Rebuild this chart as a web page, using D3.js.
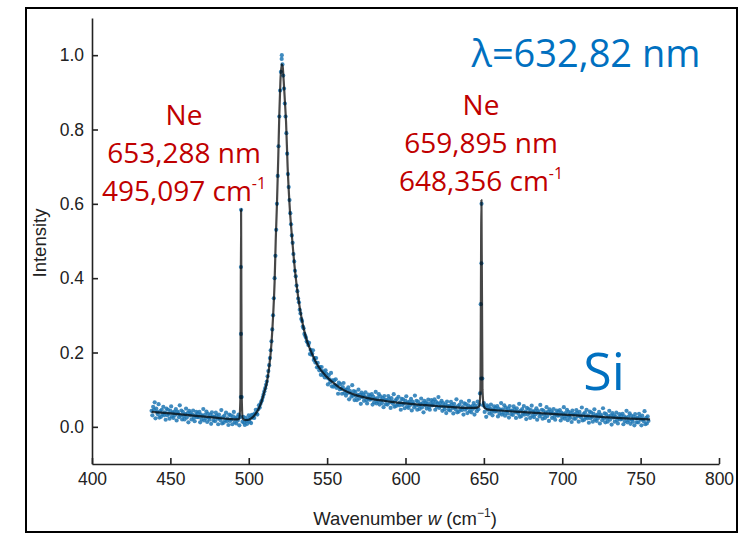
<!DOCTYPE html>
<html><head><meta charset="utf-8">
<script src="https://cdn.jsdelivr.net/npm/d3@7"></script>
<style>body{margin:0;background:#fff}</style>
</head><body><svg id="c" width="755" height="535"></svg>
<script>
// ---- data ----
const xTicks = [400, 450, 500, 550, 600, 650, 700, 750, 800];
const yTicks = [0.0, 0.2, 0.4, 0.6, 0.8, 1.0];
const xDomain = [400, 800];
const yDomain = [-0.1, 1.1];

// measured spectrum: intensities on a regular wavenumber grid (438 ... 755, step 0.5)
const scatterStart = 438, scatterStep = 0.5;
const scatterI = [
 0.043,0.031,0.054,0.046,0.066,0.023,0.049,0.040,0.034,0.061,0.025,0.042,0.027,0.046,0.034,0.054,0.031,0.039,0.019,0.049,
 0.031,0.046,0.035,0.022,0.043,0.055,0.028,0.038,0.024,0.041,0.032,0.048,0.017,0.041,0.036,0.026,0.058,0.031,0.044,0.020,
 0.040,0.029,0.020,0.034,0.049,0.025,0.037,0.012,0.043,0.031,0.037,0.020,0.033,0.044,0.024,0.015,0.031,0.040,0.026,0.036,
 0.026,0.040,0.012,0.033,0.020,0.029,0.048,0.017,0.032,0.023,0.041,0.013,0.035,0.025,0.019,0.032,0.008,0.039,0.028,0.017,
 0.027,0.015,0.038,0.030,0.022,0.007,0.033,0.024,0.018,0.045,0.009,0.026,0.011,0.030,0.018,0.038,0.015,0.023,0.005,0.033,
 0.016,0.031,0.020,0.007,0.028,0.040,0.013,0.023,0.009,0.026,0.017,0.033,0.004,0.026,0.430,0.080,0.014,0.027,0.011,0.005,
 0.024,0.016,0.008,0.020,0.031,0.014,0.025,0.010,0.032,0.025,0.033,0.024,0.036,0.046,0.036,0.033,0.047,0.058,0.052,0.062,
 0.068,0.072,0.080,0.088,0.096,0.104,0.113,0.122,0.136,0.150,0.166,0.185,0.206,0.230,0.262,0.300,0.346,0.400,0.460,0.530,
 0.600,0.675,0.755,0.835,0.905,0.955,0.990,0.975,0.945,0.910,0.870,0.835,0.790,0.735,0.680,0.645,0.610,0.575,0.545,0.515,
 0.495,0.465,0.445,0.420,0.405,0.380,0.365,0.345,0.335,0.315,0.305,0.290,0.285,0.270,0.265,0.250,0.245,0.240,0.230,0.227,
 0.220,0.226,0.196,0.207,0.194,0.197,0.206,0.180,0.185,0.173,0.185,0.160,0.172,0.160,0.152,0.161,0.140,0.161,0.150,0.139,
 0.147,0.133,0.152,0.143,0.132,0.114,0.139,0.128,0.120,0.145,0.109,0.125,0.108,0.125,0.112,0.128,0.105,0.111,0.089,0.119,
 0.101,0.115,0.102,0.089,0.107,0.118,0.091,0.100,0.084,0.100,0.091,0.106,0.074,0.097,0.091,0.081,0.112,0.084,0.096,0.072,
 0.094,0.082,0.072,0.086,0.100,0.076,0.087,0.062,0.092,0.080,0.087,0.070,0.082,0.093,0.072,0.063,0.078,0.087,0.073,0.083,
 0.074,0.088,0.060,0.081,0.066,0.075,0.094,0.063,0.077,0.068,0.088,0.060,0.082,0.071,0.064,0.077,0.053,0.083,0.072,0.061,
 0.072,0.060,0.083,0.075,0.066,0.051,0.077,0.068,0.062,0.088,0.054,0.071,0.056,0.075,0.061,0.081,0.058,0.066,0.046,0.075,
 0.059,0.074,0.063,0.050,0.070,0.082,0.055,0.065,0.051,0.068,0.059,0.075,0.044,0.068,0.062,0.052,0.084,0.057,0.070,0.046,
 0.068,0.057,0.048,0.062,0.076,0.052,0.064,0.039,0.070,0.058,0.065,0.049,0.062,0.073,0.053,0.046,0.063,0.072,0.058,0.068,
 0.060,0.074,0.046,0.067,0.054,0.063,0.080,0.051,0.064,0.056,0.070,0.043,0.064,0.054,0.047,0.060,0.037,0.068,0.056,0.046,
 0.056,0.044,0.067,0.059,0.051,0.036,0.062,0.053,0.047,0.074,0.039,0.056,0.041,0.060,0.048,0.068,0.045,0.053,0.033,0.063,
 0.046,0.061,0.050,0.037,0.058,0.070,0.043,0.053,0.039,0.056,0.048,0.064,0.033,0.057,0.052,0.042,0.068,0.047,0.060,0.090,
 0.330,0.600,0.130,0.058,0.064,0.040,0.052,0.027,0.058,0.046,0.053,0.036,0.049,0.060,0.040,0.031,0.046,0.055,0.041,0.051,
 0.042,0.056,0.028,0.049,0.036,0.045,0.064,0.033,0.047,0.038,0.058,0.030,0.052,0.042,0.036,0.049,0.025,0.056,0.044,0.034,
 0.044,0.032,0.055,0.047,0.039,0.024,0.050,0.041,0.035,0.062,0.027,0.044,0.029,0.048,0.036,0.056,0.033,0.041,0.021,0.051,
 0.033,0.048,0.037,0.024,0.045,0.057,0.030,0.040,0.026,0.043,0.034,0.050,0.019,0.043,0.038,0.028,0.059,0.033,0.046,0.022,
 0.044,0.033,0.024,0.038,0.053,0.029,0.041,0.016,0.047,0.035,0.041,0.024,0.037,0.048,0.028,0.019,0.035,0.044,0.030,0.040,
 0.031,0.045,0.017,0.038,0.025,0.034,0.053,0.022,0.037,0.028,0.046,0.018,0.040,0.030,0.024,0.037,0.013,0.044,0.033,0.022,
 0.034,0.022,0.045,0.037,0.029,0.014,0.040,0.031,0.025,0.052,0.017,0.034,0.019,0.038,0.026,0.046,0.023,0.031,0.011,0.041,
 0.023,0.038,0.027,0.014,0.035,0.047,0.020,0.030,0.016,0.033,0.024,0.040,0.009,0.033,0.028,0.018,0.050,0.023,0.036,0.012,
 0.034,0.023,0.014,0.028,0.043,0.019,0.031,0.006,0.037,0.025,0.031,0.014,0.027,0.038,0.018,0.009,0.025,0.034,0.020,0.030,
 0.021,0.035,0.007,0.028,0.015,0.024,0.043,0.012,0.027,0.018,0.036,0.008,0.030,0.020,0.014,0.027,0.004,0.034,0.023,0.012,
 0.024,0.012,0.035,0.027,0.019,0.004,0.030,0.021,0.015,0.042,0.007,0.024,0.009,0.028,0.016
];
// extra measured points sitting on the sharp peaks
const extraWn = [495.1, 495.05, 494.95, 648.45, 648.3, 521.1];
const extraI  = [0.584, 0.250, 0.080, 0.440, 0.130, 1.000];

// fitted curve
const fitWn = [438,450,460,470,480,488,492,494,494.7,495.1,495.5,496.2,498,500,502,504,506,508,510,511.5,513,514.5,515.5,516.5,517.2,518,518.8,519.5,520.2,521.0,521.6,522.3,523,523.8,524.8,526,527.8,529.5,531.5,533.8,536.5,540,544,549.7,555,560,566.5,573,580,590,600,610,620,630,640,645,647,647.8,648.45,649.1,650,652,660,670,680,700,720,740,756];
const fitI  = [0.040,0.036,0.032,0.028,0.024,0.021,0.020,0.022,0.080,0.585,0.080,0.022,0.018,0.019,0.024,0.033,0.046,0.066,0.095,0.118,0.160,0.225,0.295,0.390,0.500,0.600,0.720,0.840,0.930,0.975,0.970,0.930,0.880,0.820,0.700,0.600,0.500,0.420,0.350,0.290,0.240,0.200,0.165,0.135,0.115,0.100,0.088,0.080,0.074,0.068,0.063,0.059,0.056,0.053,0.051,0.051,0.055,0.100,0.610,0.100,0.055,0.047,0.044,0.041,0.038,0.033,0.028,0.023,0.020];

const neLeft  = ["Ne", "653,288 nm", "495,097 cm"];
const neRight = ["Ne", "659,895 nm", "648,356 cm"];
const laserText = "λ=632,82 nm";
const sampleText = "Si";

// ---- drawing ----
const svg = d3.select("#c");
svg.append("rect").attr("x",0).attr("y",0).attr("width",755).attr("height",535).attr("fill","#fff");
svg.append("rect").attr("x",26).attr("y",8).attr("width",711).attr("height",524)
   .attr("fill","none").attr("stroke","#000").attr("stroke-width",2);

const x = d3.scaleLinear().domain(xDomain).range([92, 719]);
const y = d3.scaleLinear().domain(yDomain).range([464, 18]);

const pts = scatterI.map((v,i)=>({w: scatterStart + i*scatterStep, v}));
extraWn.forEach((w,i)=>pts.push({w, v: extraI[i]}));

svg.append("g").selectAll("circle").data(pts).join("circle")
   .attr("cx", d=>x(d.w)).attr("cy", d=>y(d.v)).attr("r", 2.1)
   .attr("fill", "#1f77b4").attr("fill-opacity", 0.85);

const fit = fitWn.map((w,i)=>[w, fitI[i]]);
svg.append("path").datum(fit)
   .attr("d", d3.line().x(d=>x(d[0])).y(d=>y(d[1])).curve(d3.curveMonotoneX))
   .attr("fill","none").attr("stroke","#000").attr("stroke-opacity",0.72)
   .attr("stroke-width",2.2).attr("stroke-linejoin","round");

const axFont = "'Liberation Sans', Arial, sans-serif";
const gx = svg.append("g").attr("transform","translate(0,464)")
  .call(d3.axisBottom(x).tickValues(xTicks).tickFormat(d3.format("d"))
        .tickSizeInner(-6).tickSizeOuter(0).tickPadding(9));
const gy = svg.append("g").attr("transform","translate(92,0)")
  .call(d3.axisLeft(y).tickValues(yTicks).tickFormat(d3.format(".1f"))
        .tickSizeInner(-6).tickSizeOuter(0).tickPadding(8));
[gx, gy].forEach(g=>{
  g.select(".domain").attr("stroke","#222").attr("stroke-width",1.6);
  g.selectAll(".tick line").attr("stroke","#222").attr("stroke-width",1.6);
  g.selectAll(".tick text").attr("fill","#222").style("font-family",axFont).style("font-size","17.5px");
});

svg.append("text").attr("transform","translate(46,243) rotate(-90)")
   .attr("text-anchor","middle").style("font-family",axFont).style("font-size","18.5px").attr("fill","#222")
   .text("Intensity");
const xl = svg.append("text").attr("x",405).attr("y",525).attr("text-anchor","middle")
   .style("font-family",axFont).style("font-size","18.5px").attr("fill","#222");
xl.append("tspan").text("Wavenumber ");
xl.append("tspan").style("font-style","italic").text("w");
xl.append("tspan").text(" (cm");
xl.append("tspan").attr("dy",-8).style("font-size","12px").text("−1");
xl.append("tspan").attr("dy",8).text(")");

const annFont = "'Open Sans', 'Noto Sans', sans-serif";
function block(lines, cx, baselines){
  lines.forEach((t,i)=>{
    const tx = svg.append("text").attr("x",cx).attr("y",baselines[i]).attr("text-anchor","middle")
      .style("font-family",annFont).style("font-size","28px").attr("fill","#c00000");
    tx.append("tspan").text(t);
    if(i===2){ tx.append("tspan").attr("dy",-12).style("font-size","16px").text("-1"); }
  });
}
block(neLeft, 184, [125, 163, 201]);
block(neRight, 481, [115, 153, 191]);

svg.append("text").attr("x",586).attr("y",67).attr("text-anchor","middle")
   .style("font-family",annFont).style("font-size","38px").attr("fill","#0070c0").text(laserText);
svg.append("text").attr("x",604).attr("y",390).attr("text-anchor","middle")
   .style("font-family",annFont).style("font-size","52px").attr("fill","#0070c0").text(sampleText);
</script></body></html>
